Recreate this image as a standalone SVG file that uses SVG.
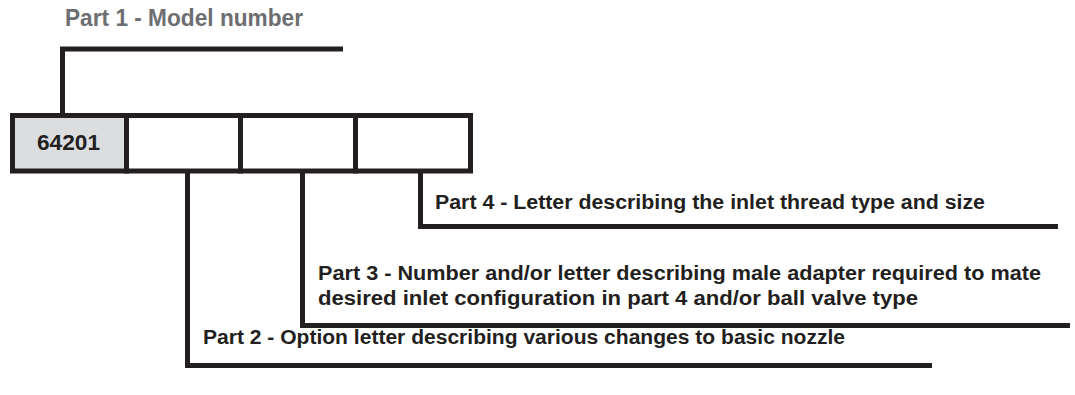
<svg xmlns="http://www.w3.org/2000/svg" width="1075" height="395" viewBox="0 0 1075 395">
<style>
.ln{fill:none;stroke:#231f20;stroke-width:5;stroke-linecap:butt;stroke-linejoin:miter}
.bx{stroke:#231f20;stroke-width:5}
.t{font-family:"Liberation Sans",Arial,sans-serif;font-weight:bold;fill:#231f20}
</style>
<rect width="1075" height="395" fill="#ffffff"/>
<g id="title">
<text class="t" x="65" y="26" font-size="23" style="fill:#6d6e71" textLength="238" lengthAdjust="spacingAndGlyphs">Part 1 - Model number</text>
</g>
<g id="connectors">
<path class="ln" d="M62.5 116 V49 H343"/>
<path class="ln" d="M187.5 171 V365.5 H932"/>
<path class="ln" d="M302.5 171 V325.5 H1070"/>
<path class="ln" d="M420.5 171 V226.5 H1058"/>
</g>
<g id="box1">
<rect class="bx" x="12.5" y="115.5" width="114" height="55.5" fill="#dcddde"/>
<text class="t" x="37" y="150" font-size="22" textLength="63" lengthAdjust="spacingAndGlyphs">64201</text>
</g>
<g id="box2"><rect class="bx" x="126.5" y="115.5" width="114" height="55.5" fill="#ffffff"/></g>
<g id="box3"><rect class="bx" x="240.5" y="115.5" width="115" height="55.5" fill="#ffffff"/></g>
<g id="box4"><rect class="bx" x="355.5" y="115.5" width="115" height="55.5" fill="#ffffff"/></g>
<g id="label4">
<text class="t" x="435" y="209" font-size="20" textLength="550" lengthAdjust="spacingAndGlyphs">Part 4 - Letter describing the inlet thread type and size</text>
</g>
<g id="label3">
<text class="t" x="318" y="280" font-size="20" textLength="723" lengthAdjust="spacingAndGlyphs">Part 3 - Number and/or letter describing male adapter required to mate</text>
<text class="t" x="318" y="305" font-size="20" textLength="600" lengthAdjust="spacingAndGlyphs">desired inlet configuration in part 4 and/or ball valve type</text>
</g>
<g id="label2">
<text class="t" x="203" y="344" font-size="20" textLength="642" lengthAdjust="spacingAndGlyphs">Part 2 - Option letter describing various changes to basic nozzle</text>
</g>
</svg>
